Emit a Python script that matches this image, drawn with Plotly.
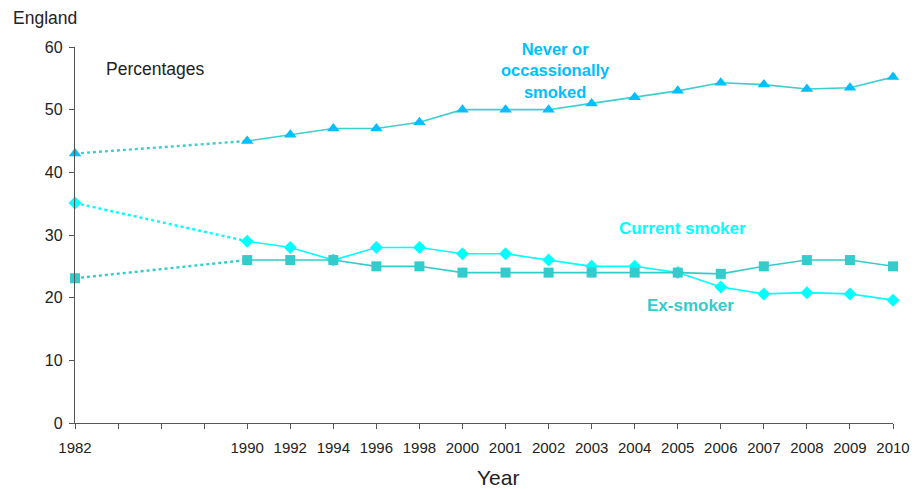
import plotly.graph_objects as go

categories = ["1982", " ", "  ", "   ", "1990", "1992", "1994", "1996", "1998", "2000",
              "2001", "2002", "2003", "2004", "2005", "2006", "2007", "2008", "2009", "2010"]
years = ["1982", "1990", "1992", "1994", "1996", "1998", "2000", "2001", "2002", "2003",
         "2004", "2005", "2006", "2007", "2008", "2009", "2010"]
never_smoked = [43, 45, 46, 47, 47, 48, 50, 50, 50, 51, 52, 53, 54.3, 54, 53.3, 53.5, 55.2]
current_smoker = [35.1, 29, 28, 26, 28, 28, 27, 27, 26, 25, 25, 24, 21.7, 20.6, 20.8, 20.6, 19.6]
ex_smoker = [23.1, 26, 26, 26, 25, 25, 24, 24, 24, 24, 24, 24, 23.8, 25, 26, 26, 25]

series = [
    ("Never or occassionally smoked", never_smoked, "#3CCFCF", "#00BFFF", "triangle-up", 11),
    ("Current smoker", current_smoker, "#00FFFF", "#00FFFF", "diamond", 10),
    ("Ex-smoker", ex_smoker, "#33CCCC", "#33CCCC", "square", 10),
]

fig = go.Figure()
for name, vals, lc, mc, sym, ms in series:
    # dotted connector 1982 -> 1990
    fig.add_trace(go.Scatter(x=years[:2], y=vals[:2], mode="lines",
                             line=dict(color=lc, width=2.4, dash="dot"),
                             showlegend=False, hoverinfo="skip"))
    fig.add_trace(go.Scatter(x=years[1:], y=vals[1:], mode="lines",
                             line=dict(color=lc, width=1.6),
                             showlegend=False, hoverinfo="skip"))
    fig.add_trace(go.Scatter(x=years, y=vals, mode="markers", name=name,
                             marker=dict(symbol=sym, size=ms, color=mc),
                             showlegend=False, cliponaxis=False))

font_family = "Liberation Sans, Arial, sans-serif"
fig.update_layout(
    width=922, height=489,
    margin=dict(l=75, r=19, t=47, b=66),
    plot_bgcolor="white", paper_bgcolor="white",
    font=dict(family=font_family, size=14, color="#222"),
    xaxis=dict(type="category", categoryorder="array", categoryarray=categories,
               range=[0, len(categories) - 1], showline=True, linecolor="#555",
               linewidth=1.3, ticks="outside", ticklen=5, tickcolor="#555",
               ticklabelstandoff=6,
               showgrid=False, zeroline=False, tickfont=dict(size=15, color="#222")),
    yaxis=dict(range=[0, 60], dtick=10, showline=True, linecolor="#555", linewidth=1.3,
               ticks="outside", ticklen=5, tickcolor="#555", showgrid=False,
               ticklabelstandoff=3,
               zeroline=False, tickfont=dict(size=16, color="#222")),
    annotations=[
        dict(text="England", xref="paper", yref="paper", x=-0.078, y=1.077,
             xanchor="left", yanchor="middle", showarrow=False, font=dict(size=17.5)),
        dict(text="Percentages", xref="paper", yref="y", x=0.036, y=56.5,
             xanchor="left", yanchor="middle", showarrow=False, font=dict(size=17.5)),
        dict(text="Year", xref="paper", yref="paper", x=0.517, y=-0.146,
             xanchor="center", yanchor="middle", showarrow=False, font=dict(size=21)),
        dict(text="<b>Never or<br>occassionally<br>smoked</b>", xref="paper", yref="y",
             x=0.588, y=56.2, xanchor="center", yanchor="middle", showarrow=False,
             align="center", font=dict(size=16.5, color="#00BFFF")),
        dict(text="<b>Current smoker</b>", xref="paper", yref="y", x=0.743, y=31.1,
             xanchor="center", yanchor="middle", showarrow=False,
             font=dict(size=17, color="#00FFFF")),
        dict(text="<b>Ex-smoker</b>", xref="paper", yref="y", x=0.752, y=18.8,
             xanchor="center", yanchor="middle", showarrow=False,
             font=dict(size=17, color="#33CCCC")),
    ],
)

fig.write_html("out.html", config={"displayModeBar": False})

with open("out.html", "r", encoding="utf-8") as f:
    html = f.read()
html = html.replace("<head>", "<head><style>html,body{margin:0;padding:0;overflow:hidden;}</style>", 1)
with open("out.html", "w", encoding="utf-8") as f:
    f.write(html)
